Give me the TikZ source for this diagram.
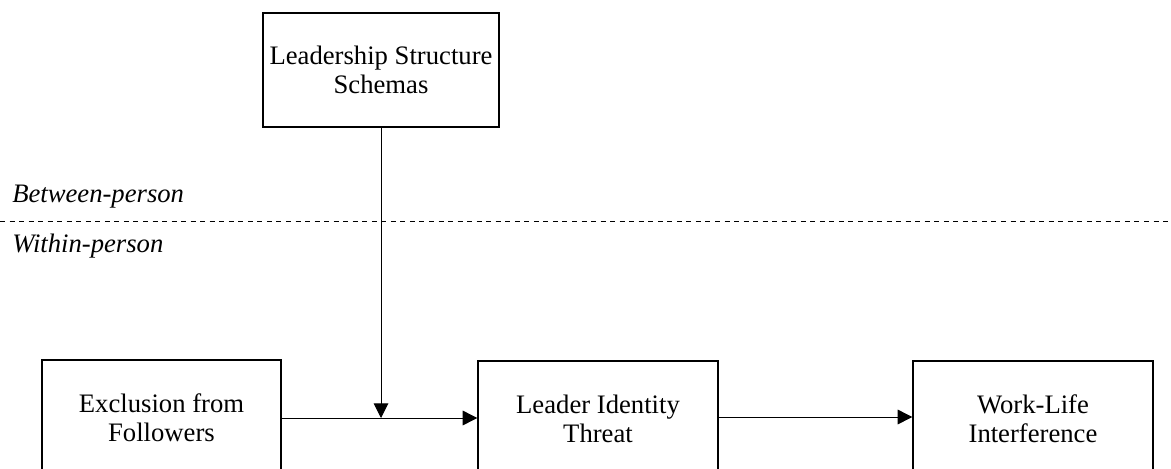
\documentclass[tikz,border=0pt]{standalone}
\usepackage{fontspec}
\setmainfont{Liberation Serif}
\usetikzlibrary{arrows.meta}

\tikzset{
  varbox/.style={draw, line width=1pt, minimum width=239*0.75pt, minimum height=116*0.75pt,
    inner sep=0pt, align=center, font=\fontsize{20}{21.75}\selectfont},
  levellabel/.style={anchor=base west, inner sep=0pt, font=\fontsize{20}{24}\selectfont\itshape},
  path arrow/.style={line width=0.75pt, -{Triangle[length=11pt,width=11pt]}}
}

\begin{document}
\begin{tikzpicture}[x=0.75pt,y=0.75pt,yscale=-1,xscale=1]
            \useasboundingbox (0,0) rectangle (1171,468);
            \clip (0,0) rectangle (1171,468);
            %Shape: Rectangle [id:schemas] 
            \node [varbox, minimum width=236*0.75pt, minimum height=114*0.75pt] (schemas) at (381,70) {Leadership Structure\\Schemas};
            %Shape: Rectangle [id:exclusion] 
            \node [varbox] (exclusion) at (161.5,418) {Exclusion from\\Followers};
            %Shape: Rectangle [id:threat] 
            \node [varbox, minimum width=240*0.75pt] (threat) at (598,419) {Leader Identity\\Threat};
            %Shape: Rectangle [id:interference] 
            \node [varbox, minimum width=240*0.75pt] (interference) at (1033,419) {Work-Life\\Interference};
            %Straight Lines [id:levelline] 
            \draw [line width=0.75pt, dash pattern=on 3.75pt off 3.4pt] (0,221) -- (1171,221) ;
            %Straight Lines [id:mainpath] 
            \draw [path arrow] (exclusion.east |- 0,418) -- (threat.west |- 0,418) ;
            \draw [path arrow] (threat.east |- 0,417) -- (interference.west |- 0,417) ;
            %Straight Lines [id:moderation] 
            \coordinate (modpoint) at (schemas.south |- 0,418) ;
            \draw [path arrow] (schemas.south) -- (modpoint) ;

            % Text Node
            \node [levellabel] (between) at (12,202) {Between-person};
            % Text Node
            \node [levellabel] (within) at (12,252) {Within-person};
\end{tikzpicture}
\end{document}
